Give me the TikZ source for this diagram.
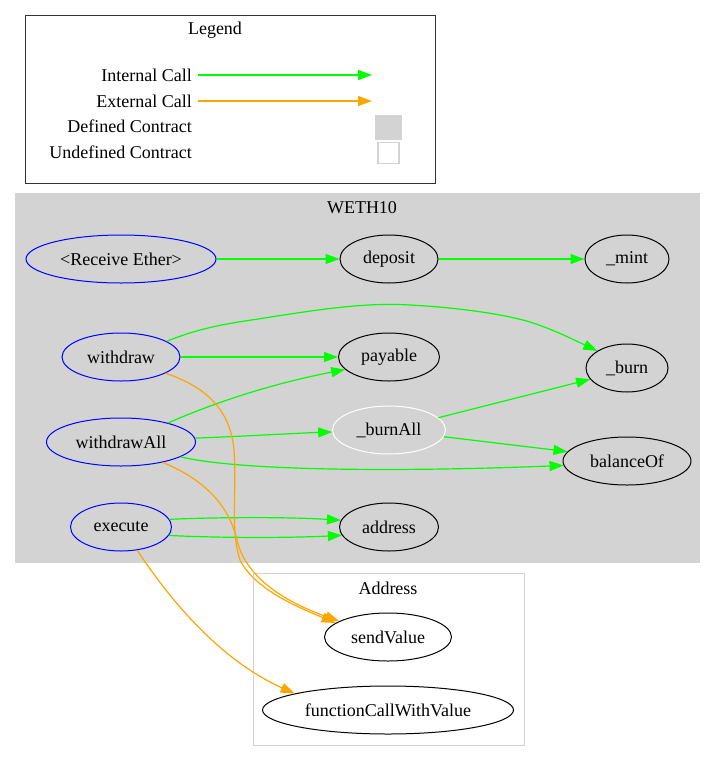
\documentclass[tikz,border=0pt]{standalone}
\usepackage{fontspec}
\setmainfont{Liberation Serif}
\usetikzlibrary{shapes.geometric,arrows.meta}
\definecolor{gvgreen}{HTML}{00FF00}
\definecolor{gvorange}{HTML}{FFA500}
\definecolor{gvblue}{HTML}{0000FF}
\definecolor{gvgray}{HTML}{D3D3D3}
\definecolor{legendborder}{HTML}{333333}
\begin{document}
\begin{tikzpicture}[x=1pt,y=-1pt,
  every node/.style={font=\fontsize{18}{21}\selectfont},
  fn/.style={ellipse,draw=black,line width=1pt,inner sep=0pt,minimum height=48pt},
  pub/.style={fn,draw=gvblue},
  intcall/.style={color=gvgreen,line width=1.2pt,-{Triangle[length=14pt,width=10pt]}},
  extcall/.style={color=gvorange,line width=1.2pt,-{Triangle[length=14pt,width=10pt]}},
  lbl/.style={anchor=east,inner sep=0pt},
  ttl/.style={inner sep=0pt}
]
\useasboundingbox (0,0) rectangle (716,761);
% Legend
\draw[legendborder,line width=1pt] (25,15) rectangle (435,183);
\node[ttl] (legendtitle) at (215,30) {Legend};
\node[lbl] (linternal) at (192,75) {Internal Call};
\node[lbl] (lexternal) at (192,101) {External Call};
\node[lbl] (ldefined) at (192,126) {Defined Contract};
\node[lbl] (lundefined) at (192,152) {Undefined Contract};
\coordinate (ia) at (198,75); \coordinate (ib) at (372,75);
\coordinate (ea) at (198,101); \coordinate (eb) at (372,101);
\draw[intcall] (ia) -- (ib);
\draw[extcall] (ea) -- (eb);
\node[fill=gvgray,minimum width=27pt,minimum height=25pt,inner sep=0pt] (defbox) at (388.5,127) {};
\node[draw=gvgray,line width=1.5pt,minimum width=21pt,minimum height=21pt,inner sep=0pt] (undefbox) at (388.5,153) {};
% Clusters
\fill[gvgray] (15,193) rectangle (700,563);
\node[ttl] (wethtitle) at (362,208) {WETH10};
\draw[gvgray,line width=1pt,fill=white] (253,573) rectangle (524,745);
\node[ttl] (addrtitle) at (388,588) {Address};
% Nodes
\node[pub,minimum width=190pt] (recv) at (121,259) {<Receive Ether>};
\node[fn,minimum width=98pt] (deposit) at (389,259) {deposit};
\node[fn,minimum width=84pt] (mint) at (627,259) {\_mint};
\node[pub,minimum width=118pt] (withdraw) at (121,357) {withdraw};
\node[fn,minimum width=101pt] (payable) at (389,357) {payable};
\node[fn,minimum width=82pt] (burn) at (627,368) {\_burn};
\node[pub,minimum width=149pt] (withdrawAll) at (121,442) {withdrawAll};
\node[fn,draw=white,minimum width=113pt] (burnAll) at (389,430) {\_burnAll};
\node[fn,minimum width=128pt] (balanceOf) at (627,461) {balanceOf};
\node[pub,minimum width=101pt] (execute) at (121,527) {execute};
\node[fn,minimum width=99pt] (address) at (389,527) {address};
\node[fn,minimum width=127pt] (sendValue) at (388,637) {sendValue};
\node[fn,minimum width=251pt] (fcwv) at (388,710) {functionCallWithValue};
% Internal calls
\draw[intcall] (recv) -- (deposit);
\draw[intcall] (deposit) -- (mint);
\draw[intcall] (withdraw) -- (payable);
\draw[intcall] (withdraw.19) .. controls (195,330) and (218,325) .. (245,321)
   .. controls (310,311) and (360,302) .. (410,305)
   .. controls (450,307) and (500,313) .. (530,322)
   .. controls (552,329) and (570,338) .. (burn.150);
\draw[intcall] (withdrawAll.22) .. controls (220,400) and (280,382) .. (payable.196);
\draw[intcall] (withdrawAll.3) .. controls (250,436) and (300,433) .. (burnAll.182);
\draw[intcall] (withdrawAll.-14) .. controls (240,471) and (400,472) .. (balanceOf.184);
\draw[intcall] (burnAll.14) -- (burn.197);
\draw[intcall] (burnAll.-7) -- (balanceOf.171);
\draw[intcall] (execute.9) .. controls (220,517) and (290,517) .. (address.172);
\draw[intcall] (execute.-10) .. controls (220,538) and (290,538) .. (address.190);
% External calls
\draw[extcall] (withdraw.-20) .. controls (200,385) and (230,405) .. (234,450)
   .. controls (237,490) and (230,530) .. (240,560)
   .. controls (255,590) and (300,608) .. (sendValue.165);
\draw[extcall] (withdrawAll.-26) .. controls (210,482) and (230,510) .. (237,540)
   .. controls (245,575) and (280,600) .. (sendValue.162);
\draw[extcall] (execute.-55) .. controls (170,600) and (220,660) .. (fcwv.170);
\end{tikzpicture}
\end{document}
